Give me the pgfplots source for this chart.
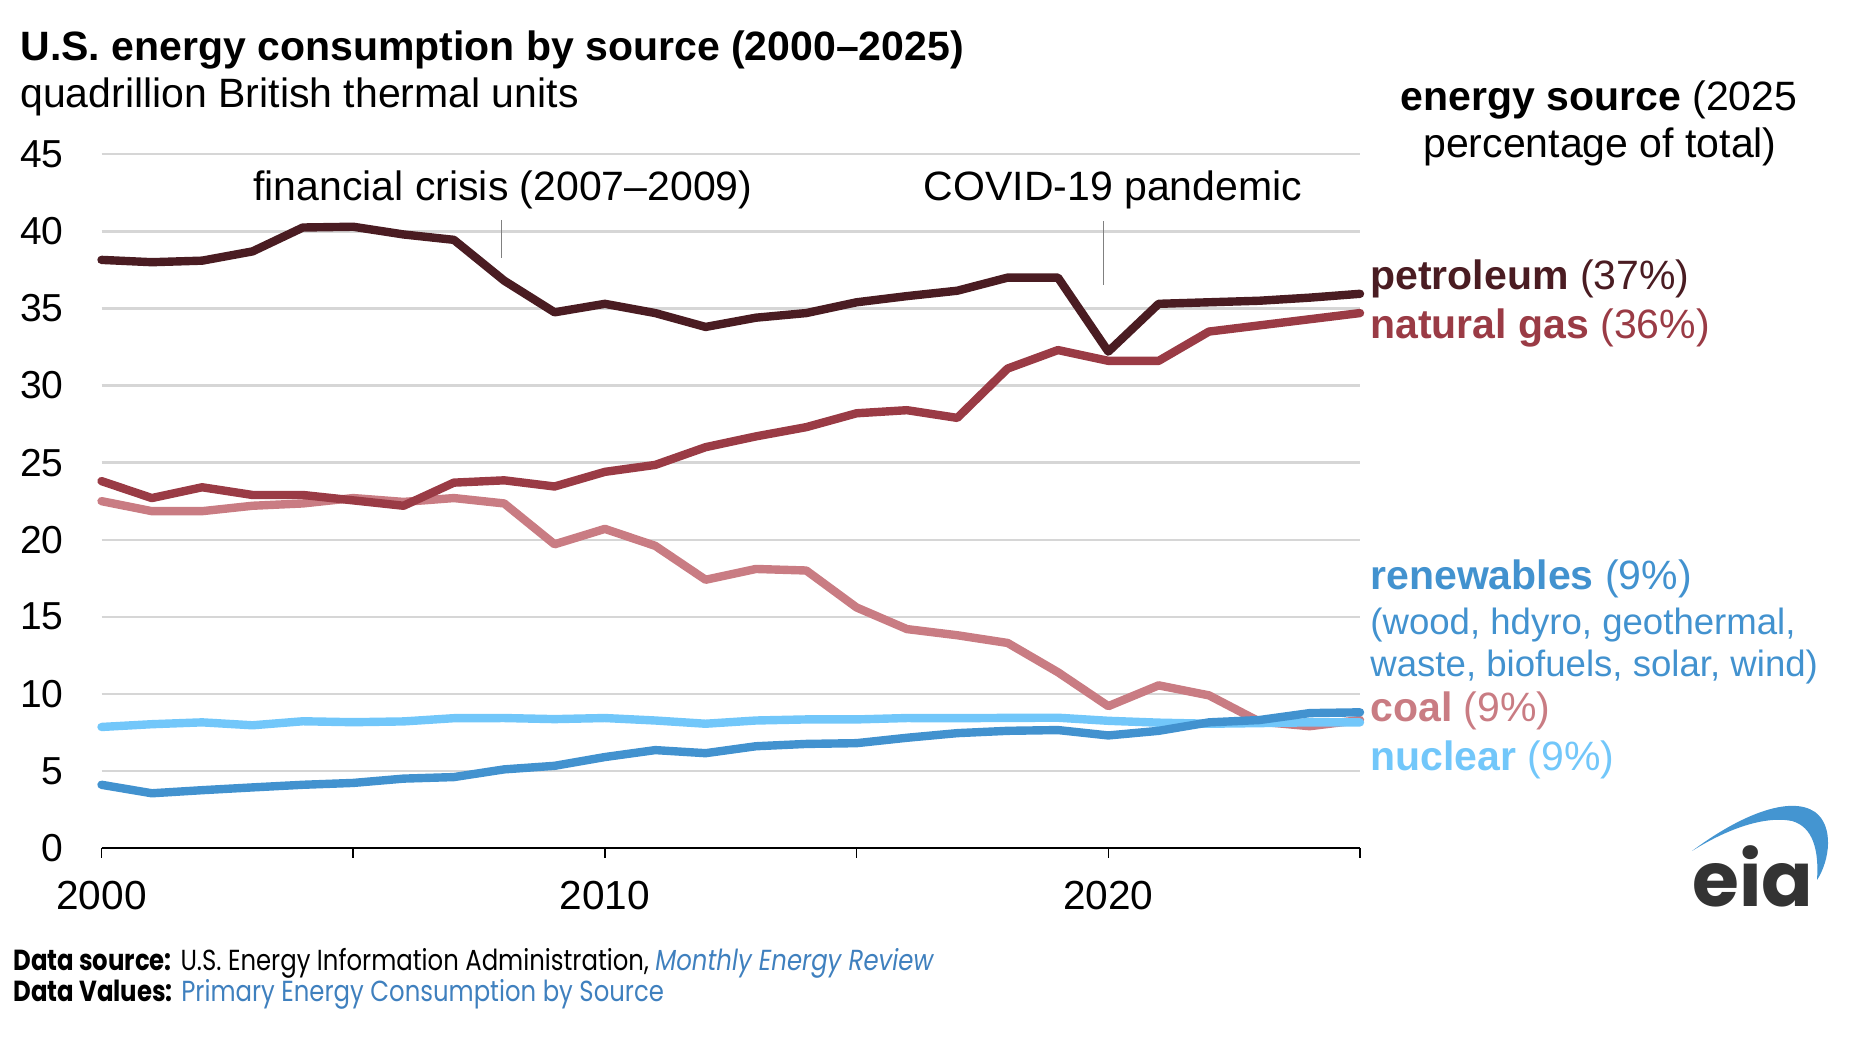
\documentclass[border=0pt]{standalone}
\usepackage{pgfplots}
\pgfplotsset{compat=1.18}
\usepackage{fontspec}
\setmainfont{Liberation Sans}
\newfontfamily\footfont[FakeStretch=0.84]{Poppins}
\newfontfamily\logofont{Poppins}
\definecolor{petro}{HTML}{4A1C22}
\definecolor{natgas}{HTML}{9A3B45}
\definecolor{coalc}{HTML}{C97C83}
\definecolor{renew}{HTML}{4292CF}
\definecolor{nucl}{HTML}{72C7FA}
\definecolor{gridc}{HTML}{D6D6D6}
\definecolor{linkc}{HTML}{3F80BE}
\definecolor{logogray}{HTML}{333333}
\definecolor{logoblue}{HTML}{4495D1}
\newcommand{\fs}[1]{\fontsize{#1}{#1}\selectfont}
\pgfplotsset{series/.style={#1, line width=4.2pt, line cap=round, line join=round}}
\begin{document}
\begin{tikzpicture}
\useasboundingbox (0,0) rectangle (925pt,526pt);
\begin{axis}[
  at={(50.75pt,102pt)}, anchor=south west,
  scale only axis, width=629.25pt, height=346.85pt,
  xmin=2000, xmax=2025, ymin=0, ymax=45,
  axis x line*=bottom, axis y line*=left,
  y axis line style={draw=none},
  x axis line style={line width=1.3pt, black},
  xtick={2000,2005,...,2025}, xticklabels={2000,,2010,,2020,},
  ytick={0,5,...,45},
  tick align=outside, major tick length=5pt,
  xtick style={black, line width=0.8pt},
  ytick style={draw=none},
  ymajorgrids, grid style={draw=gridc, line width=1.15pt},
  /pgf/number format/assume math mode=true,
  yticklabel style={font=\fs{19.5}, anchor=east, inner sep=0pt, xshift=-13.75pt},
  xticklabel style={font=\fs{20.3}, anchor=north, inner sep=0pt, yshift=-11.5pt},
  clip=false,
]
\addplot[series=coalc] coordinates {
(2000,22.5)(2001,21.85)(2002,21.85)(2003,22.2)(2004,22.35)(2005,22.7)(2006,22.45)(2007,22.7)(2008,22.35)(2009,19.7)
(2010,20.7)(2011,19.6)(2012,17.4)(2013,18.1)(2014,18.0)(2015,15.6)(2016,14.2)(2017,13.8)(2018,13.3)(2019,11.4)
(2020,9.2)(2021,10.55)(2022,9.9)(2023,8.2)(2024,7.9)(2025,8.3)};
\addplot[series=natgas] coordinates {
(2000,23.8)(2001,22.7)(2002,23.4)(2003,22.9)(2004,22.9)(2005,22.55)(2006,22.2)(2007,23.7)(2008,23.85)(2009,23.45)
(2010,24.4)(2011,24.85)(2012,26.0)(2013,26.7)(2014,27.3)(2015,28.2)(2016,28.4)(2017,27.9)(2018,31.1)(2019,32.3)
(2020,31.6)(2021,31.6)(2022,33.5)(2023,33.9)(2024,34.3)(2025,34.7)};
\addplot[series=nucl] coordinates {
(2000,7.85)(2001,8.03)(2002,8.15)(2003,7.96)(2004,8.22)(2005,8.16)(2006,8.21)(2007,8.42)(2008,8.43)(2009,8.36)
(2010,8.43)(2011,8.27)(2012,8.06)(2013,8.27)(2014,8.34)(2015,8.34)(2016,8.43)(2017,8.42)(2018,8.44)(2019,8.45)
(2020,8.25)(2021,8.13)(2022,8.06)(2023,8.1)(2024,8.15)(2025,8.15)};
\addplot[series=renew] coordinates {
(2000,4.1)(2001,3.55)(2002,3.75)(2003,3.93)(2004,4.1)(2005,4.22)(2006,4.5)(2007,4.6)(2008,5.1)(2009,5.33)
(2010,5.9)(2011,6.35)(2012,6.15)(2013,6.6)(2014,6.75)(2015,6.8)(2016,7.15)(2017,7.45)(2018,7.6)(2019,7.65)
(2020,7.3)(2021,7.6)(2022,8.15)(2023,8.3)(2024,8.75)(2025,8.8)};
\addplot[series=petro] coordinates {
(2000,38.15)(2001,38.0)(2002,38.1)(2003,38.7)(2004,40.25)(2005,40.3)(2006,39.8)(2007,39.45)(2008,36.8)(2009,34.75)
(2010,35.3)(2011,34.7)(2012,33.8)(2013,34.4)(2014,34.7)(2015,35.4)(2016,35.8)(2017,36.15)(2018,37.0)(2019,37.0)
(2020,32.2)(2021,35.3)(2022,35.4)(2023,35.5)(2024,35.7)(2025,35.95)};
\draw[gray, line width=0.5pt] (axis cs:2007.94,40.74) -- (axis cs:2007.94,38.27);
\draw[gray, line width=0.5pt] (axis cs:2019.9,40.67) -- (axis cs:2019.9,36.52);
\end{axis}
\begin{scope}[x=0.5pt,y=-0.5pt,shift={(0pt,526pt)}]
\node[anchor=base west, inner sep=0pt] at (20,61) {\fs{20.5}\bfseries U.S. energy consumption by source (2000–2025)};
\node[anchor=base west, inner sep=0pt] at (20,108) {\fs{20.5}quadrillion British thermal units};
\node[anchor=base, inner sep=0pt] at (503,201) {\fs{20.5}financial crisis (2007–2009)};
\node[anchor=base, inner sep=0pt] at (1113,201) {\fs{20.5}COVID-19 pandemic};
\node[anchor=base, inner sep=0pt] at (1599,111) {\fs{20.5}\textbf{energy source} (2025};
\node[anchor=base, inner sep=0pt] at (1600,158) {\fs{20.5}percentage of total)};
\node[anchor=base west, inner sep=0pt, text=petro] at (1370,290) {\fs{20.5}\textbf{petroleum} (37\%)};
\node[anchor=base west, inner sep=0pt, text=natgas] at (1370,339) {\fs{20.5}\textbf{natural gas} (36\%)};
\node[anchor=base west, inner sep=0pt, text=renew] at (1370,590) {\fs{20.5}\textbf{renewables} (9\%)};
\node[anchor=base west, inner sep=0pt, text=renew] at (1370,635) {\fs{18.3}(wood, hdyro, geothermal,};
\node[anchor=base west, inner sep=0pt, text=renew] at (1370,677) {\fs{18.3}waste, biofuels, solar, wind)};
\node[anchor=base west, inner sep=0pt, text=coalc] at (1370,722) {\fs{20.5}\textbf{coal} (9\%)};
\node[anchor=base west, inner sep=0pt, text=nucl] at (1370,771) {\fs{20.5}\textbf{nuclear} (9\%)};
\node[anchor=base west, inner sep=0pt] at (13,971) {\footfont\fs{14.5}\textbf{Data source:} U.S. Energy Information Administration, \textcolor{linkc}{\itshape Monthly Energy Review}};
\node[anchor=base west, inner sep=0pt] at (13,1002) {\footfont\fs{14.5}\textbf{Data Values:} \textcolor{linkc}{Primary Energy Consumption by Source}};
\fill[logoblue] (1692,851) .. controls (1740,815) and (1790,795) .. (1815,812) .. controls (1834,826) and (1830,860) .. (1817,880) .. controls (1819,850) and (1813,827) .. (1792,821) .. controls (1762,815) and (1722,832) .. cycle;
\node[anchor=base west, inner sep=0pt, text=logogray] at (1692,907) {\logofont\fs{38}\bfseries eia};
\end{scope}
\end{tikzpicture}
\end{document}
